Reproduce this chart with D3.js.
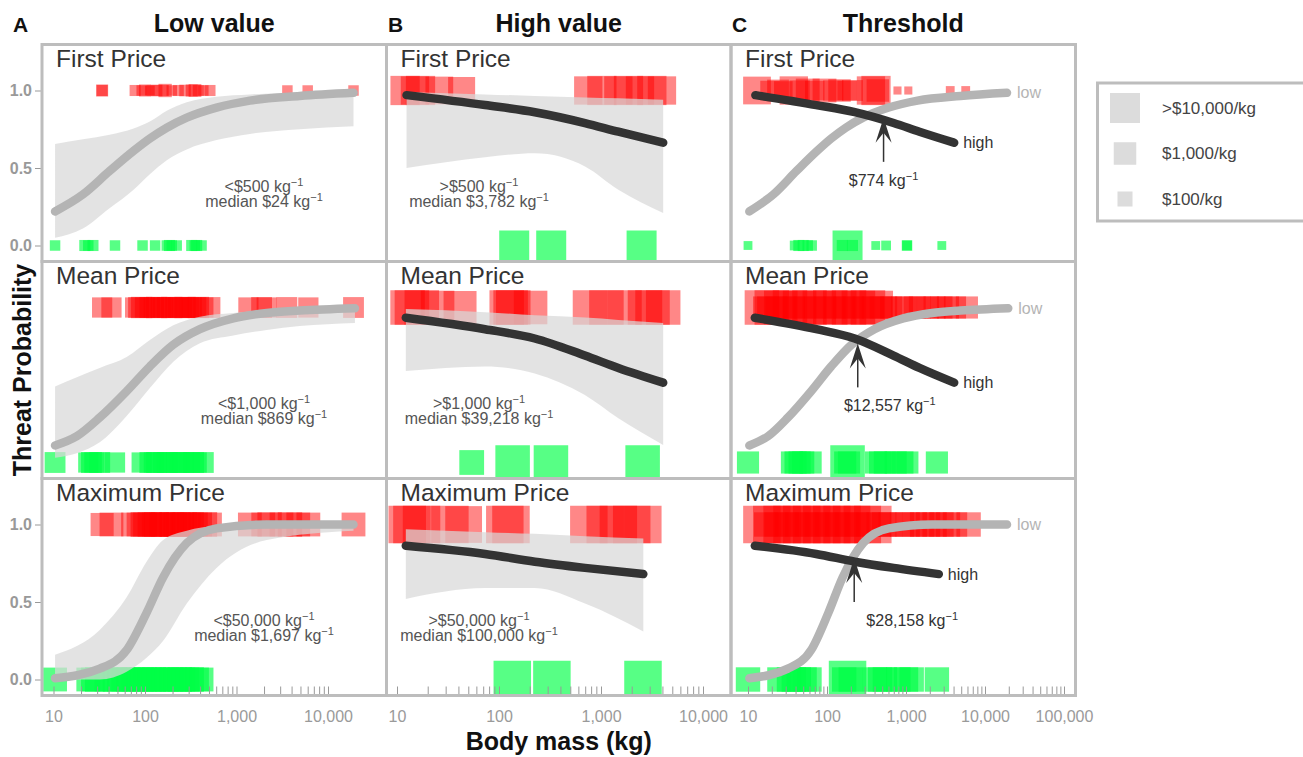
<!DOCTYPE html>
<html>
<head>
<meta charset="utf-8">
<script src="https://cdn.jsdelivr.net/npm/d3@7"></script>
<style>
  body { margin: 0; background: #fff; }
  svg { font-family: "Liberation Sans", Arial, Helvetica, sans-serif; }
</style>
</head>
<body>
<script>
// ---- data ----
var colTitles = ["Low value", "High value", "Threshold"];
var colLetters = ["A", "B", "C"];
var rowNames = ["First Price", "Mean Price", "Maximum Price"];
var probTicks = [0, 0.5, 1];
var massTicksAB = [10, 100, 1000, 10000];
var massTicksC = [10, 100, 1000, 10000, 100000];
var legendPrices = [10000, 1000, 100];
var legendLabels = [">$10,000/kg", "$1,000/kg", "$100/kg"];

var lowCut = ["<$500", "<$1,000", "<$50,000"];
var lowMedian = ["$24", "$869", "$1,697"];
var highCut = [">$500", ">$1,000", ">$50,000"];
var highMedian = ["$3,782", "$39,218", "$100,000"];
var thrMass = [520, 245, 221];
var thrProb = [0.83, 0.775, 0.79];
var thrLabels = ["$774", "$12,557", "$28,158"];

// fitted curves: [mass, fit, lower, upper]
var lowFirstFit = [[10.4,0.22,0.05,0.655],[21,0.33,0.11,0.685],[41,0.48,0.24,0.715],[75,0.61,0.36,0.755],[113,0.69,0.46,0.80],[173,0.76,0.55,0.87],[286,0.825,0.62,0.925],[605,0.89,0.68,0.96],[1400,0.935,0.72,0.975],[4900,0.965,0.75,0.985],[19000,0.985,0.77,0.99]];
var lowMeanFit = [[10.4,0.11,0.03,0.49],[18,0.17,0.06,0.55],[32,0.29,0.13,0.61],[63,0.46,0.30,0.68],[113,0.62,0.48,0.79],[204,0.76,0.65,0.885],[398,0.86,0.77,0.94],[923,0.93,0.82,0.965],[2140,0.965,0.855,0.98],[4900,0.98,0.88,0.99],[19700,0.995,0.90,1.0]];
var lowMaxFit = [[10.4,0.008,0.0,0.16],[32,0.07,0.0,0.32],[63,0.19,0.05,0.53],[104,0.43,0.14,0.76],[158,0.66,0.25,0.90],[286,0.88,0.49,0.96],[605,0.975,0.72,0.99],[2140,1.0,0.90,1.0],[19000,1.0,0.96,1.0]];
var highFirstFit = [[12.4,0.97,0.50,0.99],[73,0.906,0.57,0.975],[225,0.86,0.595,0.965],[697,0.79,0.51,0.955],[1480,0.734,0.36,0.95],[4070,0.663,0.21,0.94]];
var highMeanFit = [[12.2,0.934,0.59,0.99],[73,0.86,0.62,0.97],[224,0.80,0.575,0.95],[695,0.69,0.435,0.935],[1480,0.61,0.285,0.92],[4070,0.515,0.113,0.90]];
var highMaxFit = [[12.2,0.863,0.52,0.97],[73,0.81,0.59,0.95],[225,0.76,0.59,0.94],[697,0.72,0.49,0.925],[2600,0.68,0.31,0.91]];

// species: [body mass kg, price $/kg]
var lowFirstThreat = [[34,40],[34,30],[78,30],[92,25],[100,40],[113,20],[120,30],[134,35],[158,30],[166,60],[196,25],[231,30],[274,35],[324,40],[352,50],[383,30],[434,25],[513,30],[3600,25],[6000,25],[19000,25]];
var lowFirstSafe = [[10.4,25],[22,30],[24,25],[27,30],[47,25],[94,25],[129,25],[173,25],[185,30],[196,25],[222,25],[324,30],[350,25],[367,30],[415,25]];
var lowMeanThreat = [[34,500],[43,500],[78,500],[85,600],[92,700],[100,500],[113,600],[125,500],[134,700],[150,600],[158,500],[175,600],[196,700],[215,500],[231,600],[255,500],[274,700],[300,600],[324,500],[360,600],[383,700],[434,500],[513,600],[1350,500],[1880,600],[2140,500],[3550,600],[6100,500],[19000,600]];
var lowMeanSafe = [[10.4,600],[24,500],[26,600],[28,500],[32,600],[47,500],[92,500],[113,600],[125,500],[134,600],[158,500],[175,600],[187,500],[222,600],[240,500],[262,600],[310,500],[340,600],[367,500],[434,600]];
var lowMaxThreat = [[34,1200],[43,1500],[74,1500],[85,1500],[95,2000],[100,1500],[113,1800],[125,1500],[134,2000],[150,1500],[158,1800],[175,1500],[196,2000],[215,1500],[231,1800],[255,1500],[274,2000],[300,1500],[324,1800],[360,1500],[400,1500],[450,2000],[513,1500],[1400,1500],[1960,1500],[2300,1800],[3100,1500],[3840,1800],[4730,1500],[6100,1500],[19000,1500]];
var lowMaxSafe = [[10.4,1500],[24,1500],[27,1500],[30,1800],[38,1500],[47,1800],[52,1500],[58,1500],[66,1800],[75,1500],[85,1500],[92,1800],[100,1500],[113,1500],[125,1800],[140,1500],[158,1500],[173,1800],[195,1500],[213,1500],[240,1800],[262,1500],[290,1500],[324,1800],[370,1500],[415,1500]];
var highFirstThreat = [[12,8000],[15,6000],[17,8000],[26,5000],[43,4000],[750,6000],[1020,8000],[1480,6000],[1860,8000],[2410,6000],[3150,8000],[3960,6000]];
var highFirstSafe = [[141,10000],[325,10000],[2500,10000]];
var highMeanThreat = [[12.7,40000],[14,40000],[17.5,40000],[25,30000],[41.5,25000],[119,40000],[130,40000],[138,40000],[204,30000],[780,40000],[1130,40000],[1700,40000],[2700,40000],[3200,40000],[4070,40000]];
var highMeanSafe = [[54,2000],[136,40000],[323,40000],[2560,40000]];
var highMaxThreat = [[12.6,100000],[14,100000],[17.4,100000],[33,100000],[45,80000],[114,100000],[131,100000],[760,100000],[1100,100000],[1480,100000],[2000,100000],[2570,100000]];
var highMaxSafe = [[135,100000],[330,100000],[2580,100000]];
var thrFirstThreat = [[13,5000],[19,400],[24,800],[28,300],[38,6000],[45,500],[57,1500],[70,400],[93,1500],[120,500],[144,1000],[180,400],[210,600],[360,6000],[417,8000],[440,1000],[780,12],[1070,12],[3630,15],[5700,15]];
var thrFirstSafe = [[10,15],[39,20],[44,30],[50,30],[57,25],[64,25],[182,10000],[156,30],[210,30],[414,15],[560,20],[1030,25],[1030,20],[2840,15]];
var thrMeanThreat = [[15,40000],[16,900],[18,900],[20,40000],[23,900],[26,30000],[30,900],[34,40000],[38,900],[45,30000],[52,900],[60,40000],[70,900],[80,30000],[95,900],[110,40000],[125,900],[145,30000],[165,900],[190,40000],[215,900],[250,30000],[290,900],[330,40000],[380,900],[420,30000],[480,900],[560,900],[650,900],[890,900],[1000,900],[1290,900],[1500,900],[1900,900],[2300,900],[2810,900],[3400,900],[4170,900],[5900,900]];
var thrMeanSafe = [[10,900],[36,900],[40,900],[45,900],[50,900],[62,900],[182,40000],[170,900],[190,900],[417,900],[470,900],[540,900],[740,900],[900,900],[1040,900],[2460,900]];
var thrMaxThreat = [[15,100000],[17,1800],[20,100000],[23,1800],[27,100000],[31,1800],[36,100000],[42,1800],[48,100000],[56,1800],[64,100000],[75,1800],[86,100000],[100,1800],[115,100000],[135,1800],[155,100000],[180,1800],[205,100000],[240,1800],[280,100000],[330,1800],[380,100000],[450,1800],[530,1800],[640,1800],[890,1800],[1050,1800],[1290,1800],[1600,1800],[1900,1800],[2300,1800],[2810,1800],[3400,1800],[4170,1800],[6200,1800]];
var thrMaxSafe = [[10,1800],[25,1800],[33,1800],[38,1800],[44,1800],[52,1800],[60,1800],[182,100000],[165,1800],[200,1800],[405,1800],[470,1800],[540,1800],[800,1800],[1000,1800],[1180,1800],[2460,1800]];

// ---- layout ----
var width = 1303, height = 757;
var colLeft = [42, 386.5, 731];
var panelW = 344.5, panelH = 217;
var rowTop = [44.5, 261.5, 478.5];
var redFill = "#ff0000", greenFill = "rgb(0,255,70)";
var lowLine = "#b4b4b4", highLine = "#333";

var lowFits = [lowFirstFit, lowMeanFit, lowMaxFit];
var highFits = [highFirstFit, highMeanFit, highMaxFit];
var pts = [
  [[lowFirstThreat, lowFirstSafe], [highFirstThreat, highFirstSafe], [thrFirstThreat, thrFirstSafe]],
  [[lowMeanThreat, lowMeanSafe], [highMeanThreat, highMeanSafe], [thrMeanThreat, thrMeanSafe]],
  [[lowMaxThreat, lowMaxSafe], [highMaxThreat, highMaxSafe], [thrMaxThreat, thrMaxSafe]]
];

var xScales = [
  d3.scaleLog().domain([10, 10000]).range([53.5, 328]),
  d3.scaleLog().domain([10, 10000]).range([397, 703]),
  d3.scaleLog().domain([10, 100000]).range([748, 1064])
];
var majorTicks = [massTicksAB, massTicksAB, massTicksC];
function yScale(r) {
  return d3.scaleLinear().domain([0, 1]).range([rowTop[r] + 201, rowTop[r] + 46]);
}
var side = d3.scaleLog().domain([100, 10000]).range([15, 30]);

var svg = d3.select("body").append("svg").attr("width", width).attr("height", height);
var defs = svg.append("defs");

function drawSquares(g, data, x, yv, color, op) {
  var s = function(d) { return Math.max(side(d[1]), 6); };
  g.selectAll(null).data(data).enter().append("rect")
    .attr("x", function(d) { return x(d[0]) - s(d) / 2; })
    .attr("y", function(d) { return yv - s(d) / 2; })
    .attr("width", s)
    .attr("height", s)
    .attr("fill", color).attr("fill-opacity", op);
}

function kgText(g, x, y, prefix, anchor, fill) {
  var t = g.append("text").attr("x", x).attr("y", y)
    .attr("text-anchor", anchor).attr("fill", fill).attr("font-size", 16);
  t.append("tspan").text(prefix + " kg");
  t.append("tspan").attr("dy", -6).attr("font-size", 11).text("\u22121");
  return t;
}

function drawFit(g, fit, x, y, color, ribbon) {
  if (ribbon) {
    var area = d3.area().curve(d3.curveMonotoneX)
      .x(function(d) { return x(d[0]); })
      .y0(function(d) { return y(d[2]); })
      .y1(function(d) { return y(d[3]); });
    g.append("path").datum(fit).attr("d", area)
      .attr("fill", "#d8d8d8").attr("fill-opacity", 0.72);
  }
  var line = d3.line().curve(d3.curveMonotoneX)
    .x(function(d) { return x(d[0]); })
    .y(function(d) { return y(d[1]); });
  g.append("path").datum(fit).attr("d", line)
    .attr("fill", "none").attr("stroke", color)
    .attr("stroke-width", 8.5).attr("stroke-linecap", "round");
}

function drawPanel(r, c) {
  var y = yScale(r);
  var x = xScales[c];
  var pLeft = colLeft[c], pTop = rowTop[r];
  var id = "clip" + r + c;
  defs.append("clipPath").attr("id", id).append("rect")
    .attr("x", pLeft).attr("y", pTop).attr("width", panelW).attr("height", panelH);
  var g = svg.append("g");
  var sq = g.append("g").attr("clip-path", "url(#" + id + ")");
  drawSquares(sq, pts[r][c][0], x, y(1), redFill, 0.47);
  drawSquares(sq, pts[r][c][1], x, y(0), greenFill, 0.66);

  if (c === 0) {
    drawFit(g, lowFits[r], x, y, lowLine, true);
    kgText(g, 264, pTop + 147.5, lowCut[r], "middle", "#555");
    kgText(g, 264, pTop + 162.5, "median " + lowMedian[r], "middle", "#555");
  } else if (c === 1) {
    drawFit(g, highFits[r], x, y, highLine, true);
    kgText(g, 479, pTop + 147.5, highCut[r], "middle", "#555");
    kgText(g, 479, pTop + 162.5, "median " + highMedian[r], "middle", "#555");
  } else {
    drawFit(g, lowFits[r], x, y, lowLine, false);
    drawFit(g, highFits[r], x, y, highLine, false);
    var lf = lowFits[r][lowFits[r].length - 1];
    var hf = highFits[r][highFits[r].length - 1];
    g.append("text").attr("x", x(lf[0]) + 10).attr("y", y(lf[1])).attr("dy", "0.35em")
      .attr("font-size", 16).attr("fill", "#b4b4b4").text("low");
    g.append("text").attr("x", x(hf[0]) + 9).attr("y", y(hf[1])).attr("dy", "0.35em")
      .attr("font-size", 16).attr("fill", "#333").text("high");
    var ax = x(thrMass[r]), ay = y(thrProb[r]);
    g.append("line").attr("x1", ax).attr("x2", ax).attr("y1", ay + 12).attr("y2", ay + 45)
      .attr("stroke", "#333").attr("stroke-width", 1.5);
    g.append("path")
      .attr("d", "M" + ax + "," + (ay + 1) + "L" + (ax - 8) + "," + (ay + 26) +
        "L" + ax + "," + (ay + 16) + "L" + (ax + 8) + "," + (ay + 26) + "Z")
      .attr("fill", "#333");
    var dx = [0, 32, 58][r];
    kgText(g, ax + dx, ay + 69, thrLabels[r], "middle", "#333");
  }

  g.append("text").attr("x", pLeft + 14).attr("y", pTop + 22.5)
    .attr("font-size", 24.5).attr("fill", "#333").text(rowNames[r]);

  // y labels only on the top and bottom rows of column A
  if (c === 0 && r !== 1) {
    var yAxis = d3.axisLeft(y).tickValues(probTicks).tickFormat(d3.format(".1f"))
      .tickSize(6).tickPadding(3);
    var ya = svg.append("g").attr("transform", "translate(41,0)").call(yAxis);
    ya.select(".domain").remove();
    ya.selectAll("line").attr("stroke", "#999");
    ya.selectAll("text").attr("font-size", 16).attr("font-weight", "bold")
      .attr("fill", "#999").attr("font-family", null);
  }
  if (r === 2) {
    var majors = majorTicks[c];
    var xAxis = d3.axisBottom(x).tickValues(x.ticks())
      .tickSize(-9).tickPadding(15)
      .tickFormat(function(d) { return majors.indexOf(d) >= 0 ? d3.format(",")(d) : ""; });
    var xa = svg.append("g").attr("transform", "translate(0," + (pTop + panelH) + ")").call(xAxis);
    xa.select(".domain").remove();
    xa.selectAll("line").attr("stroke", "#999");
    xa.selectAll("text").attr("font-size", 16).attr("fill", "#9a9a9a").attr("font-family", null);
  }
}

for (var r = 0; r < 3; r++) {
  for (var c = 0; c < 3; c++) {
    drawPanel(r, c);
  }
}

// panel borders
for (var r2 = 0; r2 < 3; r2++) {
  for (var c2 = 0; c2 < 3; c2++) {
    svg.append("rect").attr("x", colLeft[c2]).attr("y", rowTop[r2])
      .attr("width", panelW).attr("height", panelH)
      .attr("fill", "none").attr("stroke", "#bdbdbd").attr("stroke-width", 3);
  }
}

// headings
colTitles.forEach(function(t, i) {
  svg.append("text").attr("x", colLeft[i] + panelW / 2).attr("y", 32)
    .attr("text-anchor", "middle").attr("font-size", 25).attr("font-weight", "bold")
    .attr("fill", "#111").text(t);
  svg.append("text").attr("x", [13, 388, 732][i]).attr("y", 32)
    .attr("font-size", 21).attr("font-weight", "bold").attr("fill", "#111").text(colLetters[i]);
});

svg.append("text").attr("x", colLeft[1] + panelW / 2).attr("y", 750)
  .attr("text-anchor", "middle").attr("font-size", 25).attr("font-weight", "bold")
  .attr("fill", "#111").text("Body mass (kg)");
svg.append("text").attr("transform", "translate(31,370) rotate(-90)")
  .attr("text-anchor", "middle").attr("font-size", 25).attr("font-weight", "bold")
  .attr("fill", "#111").text("Threat Probability");

// legend
var lg = svg.append("g");
lg.append("rect").attr("x", 1097.5).attr("y", 83).attr("width", 230).attr("height", 138)
  .attr("fill", "none").attr("stroke", "#bdbdbd").attr("stroke-width", 3);
lg.selectAll(null).data(legendPrices).enter().append("rect")
  .attr("x", function(d) { return 1125 - side(d) / 2; })
  .attr("y", function(d, i) { return 108 + i * 45.5 - side(d) / 2; })
  .attr("width", function(d) { return side(d); })
  .attr("height", function(d) { return side(d); })
  .attr("fill", "#dcdcdc");
lg.selectAll(null).data(legendLabels).enter().append("text")
  .attr("x", 1162).attr("y", function(d, i) { return 108 + i * 45.5; })
  .attr("dy", "0.35em").attr("font-size", 17).attr("fill", "#444")
  .text(function(d) { return d; });
</script>
</body>
</html>
